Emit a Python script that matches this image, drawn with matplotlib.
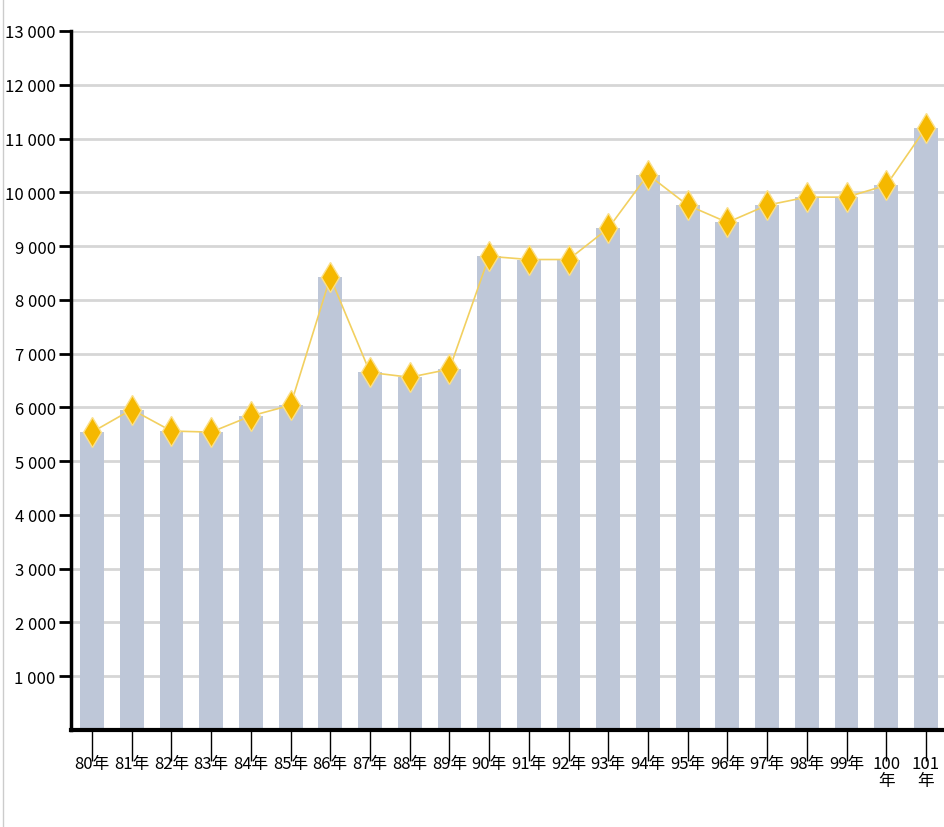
import matplotlib.pyplot as plt
from matplotlib.lines import Line2D
from matplotlib.ticker import FuncFormatter

# years (ROC calendar) and values
years = ['80年', '81年', '82年', '83年', '84年', '85年', '86年', '87年', '88年', '89年',
         '90年', '91年', '92年', '93年', '94年', '95年', '96年', '97年', '98年', '99年',
         '100\n年', '101\n年']
values = [5540, 5960, 5560, 5540, 5840, 6040, 8420, 6650, 6560, 6710,
          8810, 8750, 8750, 9330, 10330, 9760, 9440, 9760, 9910, 9910,
          10130, 11200]
yticks = list(range(1000, 14000, 1000))

bar_color = '#BEC7D8'
line_color = '#F2D060'
marker_color = '#F5B800'
fonts = ['Noto Sans CJK TC', 'DejaVu Sans']

fig = plt.figure(figsize=(9.45, 8.28), dpi=100)
ax = fig.add_axes([71 / 945, 1 - 731 / 828, 1 - 71 / 945, (731 - 32) / 828])

x = list(range(len(years)))
ax.bar(x, values, width=0.6, color=bar_color, zorder=2)
ax.plot(x, values, color=line_color, lw=1.2, zorder=3)
ax.plot(x, values, ls='none', marker='d', ms=15, mfc=marker_color,
        mec='#FBE08A', mew=1, zorder=4)

ax.set_xlim(-0.53, 21.48)
ax.set_ylim(0, 13000)
ax.set_yticks(yticks)
ax.yaxis.set_major_formatter(FuncFormatter(lambda v, p: f'{int(v):,}'.replace(',', ' ')))
ax.set_xticks(x)
ax.set_xticklabels(years, linespacing=1.0)

for v in yticks:
    ax.axhline(v, color='#D6D6D6', lw=2, zorder=1)

for s in ['top', 'right']:
    ax.spines[s].set_visible(False)
ax.spines['left'].set_linewidth(2.5)
ax.spines['bottom'].set_linewidth(3)
ax.spines['left'].set_zorder(5)
ax.spines['bottom'].set_zorder(5)

ax.tick_params(axis='y', length=9, width=2, pad=2, labelsize=12, colors='black')
ax.tick_params(axis='x', length=22, width=1, pad=-4, labelsize=12)
for lab in ax.get_yticklabels() + ax.get_xticklabels():
    lab.set_family(fonts)
for lab in ax.get_xticklabels():
    lab.set_verticalalignment('top')

# thin border on the left edge of the image
fig.add_artist(Line2D([3 / 945, 3 / 945], [0, 1], color='#CCCCCC', lw=1))

fig.savefig('out.png', dpi=100)
